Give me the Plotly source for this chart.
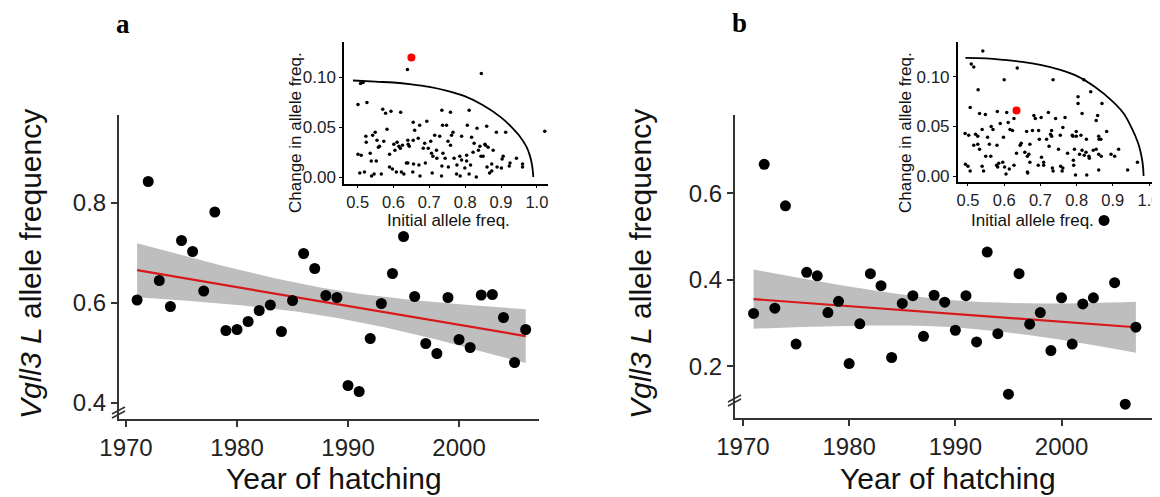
import numpy as np
import plotly.graph_objects as go

# the page has an 8px body margin; the figure fills the rest of the 1160x497 window
OFF = 8
FW, FH = 1160 - OFF, 497 - OFF

# ---------------- data ----------------
years_a = list(range(1971, 2007))
freq_a = [0.606, 0.843, 0.645, 0.593, 0.725, 0.703, 0.624, 0.782, 0.545, 0.547,
          0.563, 0.585, 0.596, 0.543, 0.605, 0.699, 0.669, 0.615, 0.611, 0.435,
          0.423, 0.529, 0.599, 0.659, 0.733, 0.613, 0.519, 0.499, 0.611, 0.527,
          0.511, 0.616, 0.617, 0.571, 0.481, 0.547]

years_b = list(range(1971, 2008))
freq_b = [0.322, 0.667, 0.334, 0.571, 0.251, 0.417, 0.409, 0.324, 0.350, 0.206,
          0.298, 0.414, 0.386, 0.220, 0.345, 0.363, 0.269, 0.364, 0.348, 0.283,
          0.363, 0.256, 0.464, 0.275, 0.135, 0.414, 0.297, 0.324, 0.236, 0.358,
          0.251, 0.344, 0.358, 0.537, 0.393, 0.112, 0.290]

# panel b trend line and confidence band
fit_b_years = [1971, 1980, 1989, 1998, 2007]
fit_b_mid = [0.355, 0.339, 0.3225, 0.306, 0.290]
fit_b_lo = [0.2865, 0.293, 0.291, 0.268, 0.231]
fit_b_hi = [0.4235, 0.384, 0.354, 0.345, 0.349]

inset_a_init = [0.508, 0.515, 0.501, 0.526, 0.570, 0.578, 0.593, 0.620, 0.735, 0.759, 0.811, 0.655, 0.693,
                0.673, 0.659, 0.582, 0.737, 0.748, 0.766, 0.762, 0.806, 0.833, 0.860, 0.887, 0.523, 0.549,
                0.542, 0.554, 0.524, 0.561, 0.601, 0.610, 0.640, 0.655, 0.641, 0.644, 0.669, 0.687, 0.704,
                0.715, 0.729, 0.720, 0.697, 0.706, 0.710, 0.752, 0.759, 0.790, 0.818, 0.825, 0.841, 0.857,
                0.864, 0.878, 0.837, 0.850, 0.822, 0.804, 0.785, 0.790, 0.769, 0.738, 0.721, 0.501, 0.510,
                0.535, 0.538, 0.552, 0.558, 0.589, 0.619, 0.625, 0.589, 0.597, 0.636, 0.640, 0.656, 0.671,
                0.689, 0.735, 0.753, 0.777, 0.799, 0.815, 0.874, 0.861, 0.889, 0.901, 0.925, 0.923, 0.943,
                0.960, 0.960, 0.506, 0.519, 0.539, 0.546, 0.566, 0.608, 0.622, 0.629, 0.654, 0.674, 0.708,
                0.734, 0.776, 0.786, 0.811, 0.831, 0.868, 0.874, 0.903, 0.906, 0.913, 0.855, 0.844, 0.804,
                0.744, 0.683, 0.573, 0.604, 0.615, 0.639, 0.845, 1.022]
inset_a_change = [0.094, 0.095, 0.073, 0.075, 0.068, 0.064, 0.066, 0.065, 0.067, 0.065, 0.067, 0.055, 0.056,
                  0.052, 0.047, 0.048, 0.052, 0.052, 0.045, 0.042, 0.052, 0.049, 0.051, 0.045, 0.041, 0.045,
                  0.042, 0.037, 0.035, 0.031, 0.033, 0.035, 0.037, 0.037, 0.033, 0.031, 0.039, 0.034, 0.036,
                  0.042, 0.041, 0.027, 0.029, 0.024, 0.021, 0.036, 0.032, 0.041, 0.040, 0.034, 0.031, 0.032,
                  0.030, 0.027, 0.027, 0.021, 0.025, 0.022, 0.021, 0.017, 0.019, 0.024, 0.019, 0.023, 0.022,
                  0.024, 0.016, 0.016, 0.030, 0.023, 0.029, 0.032, 0.010, 0.008, 0.014, 0.014, 0.013, 0.012,
                  0.014, 0.011, 0.010, 0.012, 0.009, 0.012, 0.013, 0.010, 0.010, 0.009, 0.014, 0.011, 0.019,
                  0.013, 0.010, 0.004, 0.005, 0.001, 0.003, 0.003, 0.005, 0.005, 0.003, 0.005, 0.001, 0.004,
                  0.001, 0.003, 0.001, 0.003, 0.000, 0.004, 0.006, 0.018, 0.021, 0.045, 0.033, 0.021, 0.016,
                  0.019, 0.029, 0.036, 0.027, 0.031, 0.108, 0.104, 0.046]
inset_a_red = ([0.650], [0.120])
curve_a_x = [0.487, 0.55, 0.60, 0.65, 0.70, 0.75, 0.80, 0.85, 0.90, 0.93, 0.95, 0.97, 0.98, 0.987, 0.990]
curve_a_y = [0.097, 0.0958, 0.0950, 0.0932, 0.0906, 0.0866, 0.0810, 0.0722, 0.0600, 0.0500, 0.0420,
             0.0310, 0.0220, 0.0110, 0.0]

inset_b_init = [0.541, 0.509, 0.516, 0.600, 0.636, 0.735, 0.820, 0.528, 0.839, 0.804, 0.804, 0.870, 0.506,
                0.532, 0.581, 0.607, 0.627, 0.548, 0.682, 0.686, 0.702, 0.722, 0.742, 0.768, 0.815, 0.858,
                0.854, 0.611, 0.616, 0.623, 0.589, 0.492, 0.521, 0.527, 0.539, 0.554, 0.516, 0.527, 0.532,
                0.549, 0.563, 0.580, 0.598, 0.662, 0.678, 0.695, 0.647, 0.644, 0.657, 0.668, 0.664, 0.697,
                0.717, 0.728, 0.731, 0.731, 0.724, 0.750, 0.762, 0.755, 0.788, 0.790, 0.799, 0.799, 0.794,
                0.812, 0.827, 0.861, 0.862, 0.883, 0.867, 0.815, 0.808, 0.821, 0.826, 0.834, 0.846, 0.835,
                0.854, 0.861, 0.868, 0.895, 0.916, 0.905, 0.792, 0.791, 0.775, 0.828, 0.861, 0.941, 0.968,
                0.493, 0.500, 0.506, 0.539, 0.543, 0.579, 0.582, 0.585, 0.596, 0.601, 0.605, 0.614, 0.627,
                0.634, 0.671, 0.664, 0.665, 0.694, 0.709, 0.709, 0.735, 0.733, 0.756, 0.760, 0.762, 0.797,
                0.703, 0.671, 0.559, 0.569, 0.502, 0.564]
inset_b_change = [0.126, 0.113, 0.110, 0.097, 0.109, 0.097, 0.097, 0.087, 0.085, 0.080, 0.073, 0.073, 0.069,
                  0.063, 0.065, 0.064, 0.058, 0.062, 0.061, 0.058, 0.059, 0.064, 0.058, 0.059, 0.063, 0.061,
                  0.056, 0.054, 0.047, 0.046, 0.053, 0.043, 0.042, 0.040, 0.047, 0.039, 0.031, 0.032, 0.027,
                  0.020, 0.020, 0.031, 0.039, 0.045, 0.046, 0.046, 0.033, 0.031, 0.024, 0.022, 0.020, 0.037,
                  0.037, 0.042, 0.046, 0.040, 0.030, 0.027, 0.049, 0.041, 0.041, 0.040, 0.045, 0.040, 0.027,
                  0.041, 0.037, 0.040, 0.037, 0.045, 0.037, 0.026, 0.022, 0.021, 0.024, 0.020, 0.026, 0.018,
                  0.027, 0.022, 0.020, 0.022, 0.027, 0.020, 0.011, 0.016, 0.023, 0.001, 0.006, 0.006, 0.014,
                  0.012, 0.010, 0.005, 0.010, 0.005, 0.011, 0.009, 0.013, 0.014, 0.009, 0.002, 0.007, 0.011,
                  0.023, 0.014, 0.004, 0.003, 0.011, 0.011, 0.014, 0.005, 0.008, 0.010, 0.005, 0.008, 0.001,
                  0.019, 0.032, 0.032, 0.047, 0.041, 0.050]
inset_b_red = ([0.634], [0.066])
curve_b_x = [0.493, 0.55, 0.60, 0.65, 0.70, 0.75, 0.80, 0.85, 0.90, 0.93, 0.95, 0.97, 0.978, 0.983, 0.985]
curve_b_y = [0.119, 0.1185, 0.1170, 0.1150, 0.1120, 0.1075, 0.1010, 0.0900, 0.0750, 0.0630, 0.0500,
             0.0330, 0.0220, 0.0110, 0.0]

main_xticks = [1970, 1980, 1990, 2000]
yticks_a = [0.4, 0.6, 0.8]
yticks_b = [0.2, 0.4, 0.6]
inset_xticks = [0.5, 0.6, 0.7, 0.8, 0.9, 1.0]
inset_yticks = [0.00, 0.05, 0.10]

T975 = {34: 2.032, 35: 2.030}


def lm_fit(x, y):
    x = np.asarray(x, float)
    y = np.asarray(y, float)
    b, a = np.polyfit(x, y, 1)
    n = len(x)
    s = np.sqrt(np.sum((y - (a + b * x)) ** 2) / (n - 2))
    xs = np.linspace(x.min(), x.max(), 100)
    yh = a + b * xs
    se = s * np.sqrt(1 / n + (xs - x.mean()) ** 2 / np.sum((x - x.mean()) ** 2))
    t = T975[n - 2]
    return xs, yh, yh - t * se, yh + t * se


def px(x):
    return min(1.0, max(0.0, (x - OFF) / FW))


def py(y):
    return min(1.0, max(0.0, 1 - (y - OFF) / FH))


FONT = "Liberation Sans, Arial, sans-serif"
BAND = "#bebebe"
RED = "#d7191c"
fig = go.Figure()

# panel a: least-squares trend with 95% band
xs, yh, lo, hi = lm_fit(years_a, freq_a)
fig.add_trace(go.Scatter(x=np.concatenate([xs, xs[::-1]]), y=np.concatenate([hi, lo[::-1]]),
                         fill="toself", fillcolor=BAND, line=dict(width=0), mode="lines",
                         hoverinfo="skip", xaxis="x", yaxis="y"))
fig.add_trace(go.Scatter(x=xs, y=yh, mode="lines", line=dict(color=RED, width=2.2), xaxis="x", yaxis="y"))
fig.add_trace(go.Scatter(x=years_a, y=freq_a, mode="markers", marker=dict(color="black", size=11),
                         xaxis="x", yaxis="y"))

# panel b: trend and band
fig.add_trace(go.Scatter(x=fit_b_years, y=fit_b_lo, mode="lines", line=dict(width=0, shape="spline"),
                         hoverinfo="skip", xaxis="x2", yaxis="y2"))
fig.add_trace(go.Scatter(x=fit_b_years, y=fit_b_hi, mode="lines", line=dict(width=0, shape="spline"),
                         fill="tonexty", fillcolor=BAND, hoverinfo="skip", xaxis="x2", yaxis="y2"))
fig.add_trace(go.Scatter(x=fit_b_years, y=fit_b_mid, mode="lines", line=dict(color=RED, width=2.2),
                         xaxis="x2", yaxis="y2"))
fig.add_trace(go.Scatter(x=years_b, y=freq_b, mode="markers", marker=dict(color="black", size=11),
                         xaxis="x2", yaxis="y2"))

for (ix, iy, red, cx, cy, xa, ya) in [
        (inset_a_init, inset_a_change, inset_a_red, curve_a_x, curve_a_y, "x3", "y3"),
        (inset_b_init, inset_b_change, inset_b_red, curve_b_x, curve_b_y, "x4", "y4")]:
    fig.add_trace(go.Scatter(x=cx, y=cy, mode="lines", line=dict(color="black", width=1.8, shape="spline"),
                             xaxis=xa, yaxis=ya))
    fig.add_trace(go.Scatter(x=ix, y=iy, mode="markers", marker=dict(color="black", size=3.5),
                             xaxis=xa, yaxis=ya))
    fig.add_trace(go.Scatter(x=red[0], y=red[1], mode="markers", marker=dict(color="#ff0000", size=8),
                             xaxis=xa, yaxis=ya))

main_ax = dict(showline=True, linecolor="#333333", linewidth=2, ticks="outside", ticklen=6,
               tickwidth=1.5, tickcolor="#333333", showgrid=False, zeroline=False, automargin=False,
               ticklabeloverflow="allow", tickfont=dict(family=FONT, size=24, color="#222222"))
inset_ax = dict(showline=True, linecolor="black", linewidth=1.5, ticks="outside", ticklen=3,
                tickwidth=1.2, tickcolor="black", showgrid=False, zeroline=False, automargin=False,
                ticklabeloverflow="allow", tickfont=dict(family=FONT, size=17, color="#222222"))
inset_xax = dict(inset_ax, ticklen=2, tickfont=dict(family=FONT, size=16.5, color="#222222"))

fig.update_layout(
    width=FW, height=FH, margin=dict(l=0, r=0, t=0, b=0, pad=0, autoexpand=False), showlegend=False,
    plot_bgcolor="rgba(0,0,0,0)", paper_bgcolor="white",
    xaxis=dict(main_ax, domain=[px(119), px(539)], range=[1969.37, 2007.2], tickvals=main_xticks, anchor="y"),
    yaxis=dict(main_ax, domain=[py(419), py(115)], range=[0.368, 0.976], tickvals=yticks_a,
               tickformat=".1f", anchor="x"),
    xaxis2=dict(main_ax, domain=[px(735), px(1155)], range=[1969.25, 2008.8], tickvals=main_xticks, anchor="y2"),
    yaxis2=dict(main_ax, domain=[py(418), py(115)], range=[0.08, 0.781], tickvals=yticks_b,
                tickformat=".1f", anchor="x2"),
    xaxis3=dict(inset_xax, domain=[px(344), px(548)], range=[0.462, 1.031], tickvals=inset_xticks,
                tickformat=".1f", anchor="y3"),
    yaxis3=dict(inset_ax, domain=[py(184), py(41.7)], range=[-0.007, 0.136], tickvals=inset_yticks,
                tickformat=".2f", anchor="x3"),
    xaxis4=dict(inset_xax, domain=[px(957.7), px(1157)], range=[0.4716, 1.022], tickvals=inset_xticks,
                tickformat=".1f", anchor="y4"),
    yaxis4=dict(inset_ax, domain=[py(182.3), py(41.7)], range=[-0.0063, 0.1354], tickvals=inset_yticks,
                tickformat=".2f", anchor="x4"),
)


def label(text, cx, cy, size, angle=0, family=FONT, color="#111111"):
    return dict(text=text, x=px(cx), y=py(cy), xref="paper", yref="paper", xanchor="center",
                yanchor="middle", showarrow=False, textangle=angle,
                font=dict(family=family, size=size, color=color))


ann = []
for (cx, cy) in [(334, 478), (948, 478)]:
    ann.append(label("Year of hatching", cx, cy, 30))
for (cx, cy) in [(30, 264), (640, 264)]:
    ann.append(label("<i>Vgll3 L</i> allele frequency", cx, cy, 30, angle=-90))
for (cx, cy) in [(448, 220), (1032, 220)]:
    ann.append(label("Initial allele freq.", cx, cy, 17))
for (cx, cy) in [(295, 133), (905, 133)]:
    ann.append(label("Change in allele freq.", cx, cy, 17, angle=-90))
for (t, cx, cy) in [("a", 123, 24), ("b", 739, 23)]:
    ann.append(label("<b>%s</b>" % t, cx, cy, 27, family="Liberation Serif, Times New Roman, serif",
                     color="black"))
fig.update_layout(annotations=ann)

shapes = []
for (x0, y0) in [(112, 414), (728, 402)]:
    for dy in (0, 4):
        shapes.append(dict(type="line", xref="paper", yref="paper", x0=px(x0), y0=py(y0 + dy),
                           x1=px(x0 + 13), y1=py(y0 + dy - 7), line=dict(color="#333333", width=1.6)))
fig.update_layout(shapes=shapes)

fig.write_html("out.html")
